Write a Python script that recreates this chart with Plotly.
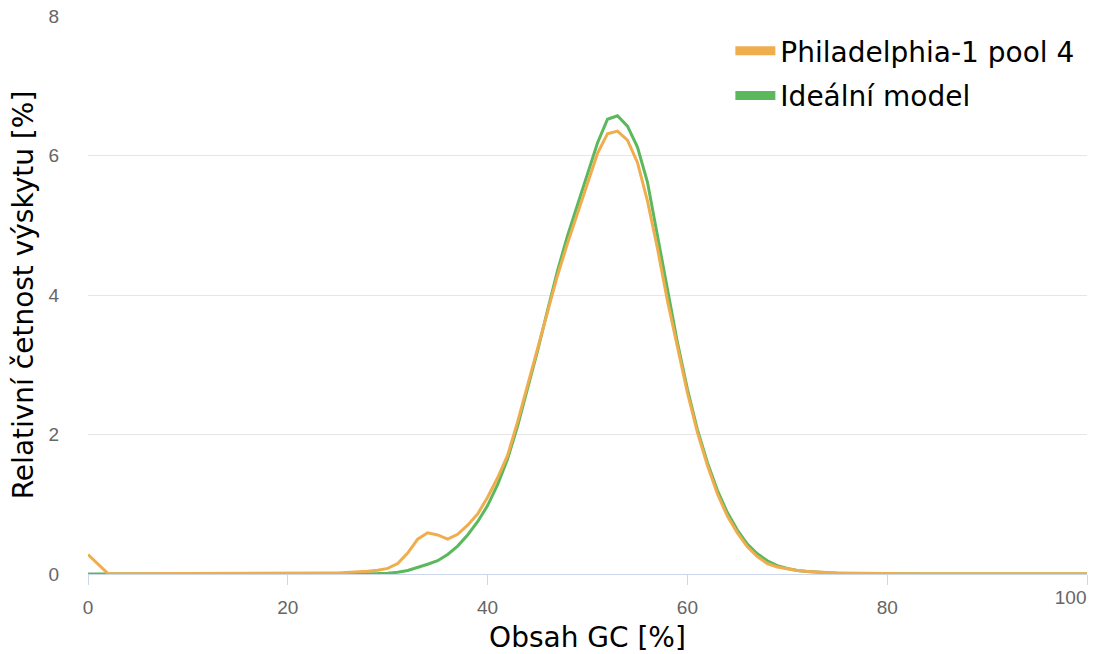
import plotly.graph_objects as go

# GC content (%) on the x axis, integer steps 0..100
gc = list(range(0, 101))

# Observed sample distribution (relative frequency, %)
philadelphia = [
    0.28, 0.14, 0.005, 0.004, 0.004, 0.004, 0.004, 0.004, 0.004, 0.004,
    0.004, 0.004, 0.004, 0.004, 0.004, 0.004, 0.005, 0.005, 0.005, 0.006,
    0.007, 0.008, 0.009, 0.011, 0.013, 0.016, 0.02, 0.027, 0.038, 0.055,
    0.08, 0.15, 0.3, 0.5, 0.59, 0.56, 0.5, 0.57, 0.7, 0.86,
    1.1, 1.38, 1.7, 2.18, 2.7, 3.2, 3.74, 4.28, 4.74, 5.18,
    5.6, 6.03, 6.31, 6.35, 6.22, 5.9, 5.35, 4.67, 3.92, 3.25,
    2.6, 2.03, 1.56, 1.15, 0.83, 0.59, 0.39, 0.25, 0.15, 0.1,
    0.07, 0.05, 0.035, 0.025, 0.02, 0.016, 0.013, 0.01, 0.008, 0.006,
    0.005, 0.004, 0.004, 0.004, 0.004, 0.004, 0.004, 0.004, 0.004, 0.004,
    0.004, 0.004, 0.004, 0.004, 0.004, 0.004, 0.004, 0.004, 0.004, 0.004,
    0.004,
]

# Ideal model distribution (relative frequency, %)
ideal = [
    0.0, 0.0, 0.0, 0.0, 0.0, 0.0, 0.0, 0.0, 0.0, 0.0,
    0.0, 0.0, 0.0, 0.0, 0.0, 0.0, 0.0, 0.0, 0.0, 0.0,
    0.0, 0.0, 0.0, 0.0, 0.001, 0.001, 0.002, 0.003, 0.005, 0.008,
    0.012, 0.025, 0.05, 0.09, 0.14, 0.19, 0.28, 0.4, 0.56, 0.75,
    0.98, 1.28, 1.65, 2.12, 2.65, 3.2, 3.78, 4.35, 4.85, 5.3,
    5.73, 6.18, 6.52, 6.57, 6.42, 6.12, 5.62, 4.85, 4.07, 3.32,
    2.65, 2.07, 1.6, 1.2, 0.88, 0.63, 0.43, 0.29, 0.19, 0.12,
    0.08, 0.05, 0.035, 0.024, 0.016, 0.011, 0.007, 0.005, 0.003, 0.002,
    0.001, 0.0, 0.0, 0.0, 0.0, 0.0, 0.0, 0.0, 0.0, 0.0,
    0.0, 0.0, 0.0, 0.0, 0.0, 0.0, 0.0, 0.0, 0.0, 0.0,
    0.0,
]

x_ticks = [0, 20, 40, 60, 80, 100]
x_labels = ["0", "20", "40", "60", "80", "100"]
y_ticks = [0, 2, 4, 6, 8]

ORANGE = "#f0ad4e"
GREEN = "#5cb85c"
FONT = "DejaVu Sans"
AXIS_LINE = "#ccd6eb"
TICK_FONT = dict(family="Liberation Sans", size=19, color="#666666")
TITLE_FONT = dict(family=FONT, size=28, color="#000000")

fig = go.Figure()

# data curves
fig.add_trace(go.Scatter(
    x=gc, y=ideal, mode="lines", name="Ideální model",
    line=dict(color=GREEN, width=3), showlegend=False,
))
fig.add_trace(go.Scatter(
    x=gc, y=philadelphia, mode="lines", name="Philadelphia-1 pool 4",
    line=dict(color=ORANGE, width=3), showlegend=False,
))

# legend entries with a thicker key line
fig.add_trace(go.Scatter(
    x=[None], y=[None], mode="lines", name="Philadelphia-1 pool 4",
    line=dict(color=ORANGE, width=9), legend="legend",
))
fig.add_trace(go.Scatter(
    x=[None], y=[None], mode="lines", name="Ideální model",
    line=dict(color=GREEN, width=9), legend="legend2",
))

# the last tick label is right-aligned to its tick
fig.add_trace(go.Scatter(
    x=[None], y=[None], xaxis="x2", showlegend=False, hoverinfo="skip",
))

legend_common = dict(
    xanchor="left", yanchor="middle", bgcolor="rgba(0,0,0,0)",
    font=TITLE_FONT, itemwidth=40,
)

fig.update_layout(
    width=1094, height=654,
    margin=dict(l=88, r=7, t=16, b=80, autoexpand=False),
    paper_bgcolor="white", plot_bgcolor="white",
    font=dict(family=FONT),
    showlegend=True,
    legend=dict(x=0.643, y=0.937, **legend_common),
    legend2=dict(x=0.643, y=0.857, **legend_common),
    xaxis=dict(
        range=[0, 100], tickvals=x_ticks, ticktext=x_labels[:-1] + [""],
        showgrid=False, zeroline=False, automargin=False,
        showline=True, linecolor=AXIS_LINE, linewidth=1,
        ticks="outside", ticklen=10, tickcolor=AXIS_LINE,
        ticklabelstandoff=6,
        tickfont=TICK_FONT,
        title=dict(text="Obsah GC [%]", font=TITLE_FONT, standoff=12),
    ),
    xaxis2=dict(
        range=[0, 100], overlaying="x", anchor="y", side="bottom",
        tickvals=x_ticks[-1:], ticktext=x_labels[-1:],
        ticklabelposition="outside left", automargin=False,
        showgrid=False, zeroline=False, showline=False,
        ticks="outside", ticklen=10, tickcolor="rgba(0,0,0,0)",
        ticklabelstandoff=6,
        tickfont=TICK_FONT,
    ),
    yaxis=dict(
        range=[0, 8], tickvals=y_ticks, showgrid=True, gridcolor="#e6e6e6", gridwidth=1,
        zeroline=False, showline=False, ticks="", automargin=False,
        ticklabelstandoff=28,
        tickfont=TICK_FONT,
        title=dict(text="Relativní četnost výskytu [%]", font=TITLE_FONT, standoff=6),
    ),
)

fig.write_html("out.html")
